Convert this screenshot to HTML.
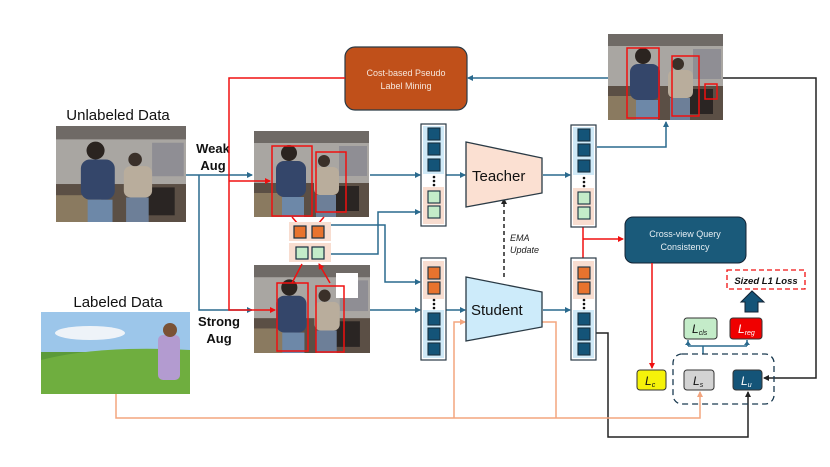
<!DOCTYPE html>
<html><head><meta charset="utf-8"><style>
html,body{margin:0;padding:0;background:#fff;}
svg{display:block;font-family:"Liberation Sans",sans-serif;}
</style></head><body>
<svg width="830" height="467" viewBox="0 0 830 467" xmlns="http://www.w3.org/2000/svg">
<defs>
<symbol id="room" viewBox="0 0 115 86" preserveAspectRatio="none">
<rect width="115" height="86" fill="#8a8580"/>
<rect width="115" height="12" fill="#6f6a66"/>
<rect y="12" width="115" height="40" fill="#a9a6a2"/>
<rect x="85" y="15" width="28" height="30" fill="#8f8e94"/>
<rect y="52" width="115" height="34" fill="#5b4f45"/>
<rect y="62" width="40" height="24" fill="#8a7a60"/>
<rect x="75" y="55" width="30" height="25" fill="#2a2523"/>
<rect x="22" y="30" width="30" height="36" rx="8" fill="#34466a"/>
<circle cx="35" cy="22" r="8" fill="#2b2420"/>
<rect x="28" y="66" width="22" height="20" fill="#6d88a8"/>
<rect x="60" y="36" width="25" height="28" rx="6" fill="#b9ad9c"/>
<circle cx="70" cy="30" r="6" fill="#3a3029"/>
<rect x="62" y="64" width="20" height="22" fill="#6d7f98"/>
</symbol>
<marker id="ab" markerWidth="6" markerHeight="6" refX="5" refY="3" orient="auto" markerUnits="userSpaceOnUse"><path d="M0,0 L6,3 L0,6z" fill="#2a6a8e"/></marker>
<marker id="ar" markerWidth="6" markerHeight="6" refX="5" refY="3" orient="auto" markerUnits="userSpaceOnUse"><path d="M0,0 L6,3 L0,6z" fill="#f01010"/></marker>
<marker id="ak" markerWidth="6" markerHeight="6" refX="5" refY="3" orient="auto" markerUnits="userSpaceOnUse"><path d="M0,0 L6,3 L0,6z" fill="#222"/></marker>
<marker id="ao" markerWidth="6" markerHeight="6" refX="5" refY="3" orient="auto" markerUnits="userSpaceOnUse"><path d="M0,0 L6,3 L0,6z" fill="#f3a57e"/></marker>
</defs>

<!-- texts -->
<text x="118" y="120" font-size="15" text-anchor="middle" fill="#111">Unlabeled Data</text>
<text x="118" y="307" font-size="15" text-anchor="middle" fill="#111">Labeled Data</text>
<text x="213" y="153" font-size="13" font-weight="bold" text-anchor="middle" fill="#111">Weak</text>
<text x="213" y="170" font-size="13" font-weight="bold" text-anchor="middle" fill="#111">Aug</text>
<text x="219" y="326" font-size="13" font-weight="bold" text-anchor="middle" fill="#111">Strong</text>
<text x="219" y="343" font-size="13" font-weight="bold" text-anchor="middle" fill="#111">Aug</text>

<!-- images -->
<use href="#room" x="56" y="126" width="130" height="96"/>
<use href="#room" x="254" y="131" width="115" height="86"/>
<use href="#room" x="254" y="265" width="116" height="88"/>
<use href="#room" x="608" y="34" width="115" height="86"/>
<rect x="336" y="273" width="22" height="25" fill="#fff"/>
<!-- labeled image -->
<rect x="41" y="312" width="149" height="82" fill="#9cc6ea"/>
<ellipse cx="90" cy="333" rx="35" ry="7" fill="#eef3f8"/>
<rect x="41" y="352" width="149" height="42" fill="#5b9a3a"/>
<path d="M41,360 Q100,345 190,350 L190,394 L41,394z" fill="#6fae3f"/>
<rect x="158" y="335" width="22" height="45" rx="5" fill="#b39bd0"/>
<circle cx="170" cy="330" r="7" fill="#7a5236"/>

<!-- red bboxes -->
<g fill="none" stroke="#f01010" stroke-width="1.5">
<rect x="272" y="146" width="40" height="70"/><rect x="316" y="152" width="30" height="60"/>
<rect x="277" y="283" width="31" height="68"/><rect x="316" y="286" width="28" height="66"/>
<rect x="627" y="48" width="32" height="70"/><rect x="672" y="56" width="27" height="60"/><rect x="705" y="84" width="12" height="15"/>
</g>

<!-- cost box -->
<rect x="345" y="47" width="122" height="63" rx="10" fill="#c0501a" stroke="#2a3a45" stroke-width="1.2"/>
<text x="406" y="76" font-size="9" fill="#f6e6dc" text-anchor="middle">Cost-based Pseudo</text>
<text x="406" y="89" font-size="9" fill="#f6e6dc" text-anchor="middle">Label Mining</text>

<!-- cross-view -->
<rect x="625" y="217" width="121" height="46" rx="8" fill="#1a5a7a" stroke="#123" stroke-width="1"/>
<text x="685" y="237" font-size="9" fill="#e6eef3" text-anchor="middle">Cross-view Query</text>
<text x="685" y="250" font-size="9" fill="#e6eef3" text-anchor="middle">Consistency</text>

<!-- lines blue -->
<g fill="none" stroke="#2a6a8e" stroke-width="1.5">
<path d="M186,175 H252" marker-end="url(#ab)"/>
<path d="M199,175 V310 H252" marker-end="url(#ab)"/>
<path d="M370,175 H420" marker-end="url(#ab)"/>
<path d="M370,310 H420" marker-end="url(#ab)"/>
<path d="M446,175 H465" marker-end="url(#ab)"/>
<path d="M446,310 H465" marker-end="url(#ab)"/>
<path d="M543,175 H570" marker-end="url(#ab)"/>
<path d="M543,310 H570" marker-end="url(#ab)"/>
<path d="M330,225 H385 V282 H420" marker-end="url(#ab)"/>
<path d="M330,254 H378 V212 H420" marker-end="url(#ab)"/>
<path d="M597,147 H666 V122" marker-end="url(#ab)"/>
<path d="M608,78 H468" marker-end="url(#ab)"/>
<path d="M703,354 V346 M688,346 H747 M688,346 V340 M747,346 V340"/>
</g>
<path d="M688,341 l-3,4 h6z M747,341 l-3,4 h6z" fill="#2a6a8e"/>

<!-- red lines -->
<g fill="none" stroke="#f01010" stroke-width="1.5">
<path d="M345,78 H229 V310 H275" marker-end="url(#ar)"/>
<path d="M229,181 H270" marker-end="url(#ar)"/>
<path d="M583,226 V258"/>
<path d="M583,239 H623" marker-end="url(#ar)"/>
<path d="M652,263 V368" marker-end="url(#ar)"/>
<path d="M292,217 L298,224 M324,217 L318,224" />
<path d="M292,283 L302,264 M330,283 L319,264" marker-end="url(#ar)"/>
</g>

<!-- black -->
<g fill="none" stroke="#222" stroke-width="1.5">
<path d="M723,78 H816 V378 H764" marker-end="url(#ak)"/>
<path d="M596,333 H608 V437 H748 V392" marker-end="url(#ak)"/>
<path d="M504,277 V199" stroke-dasharray="4,3" marker-end="url(#ak)"/>
</g>
<!-- orange -->
<g fill="none" stroke="#f3a57e" stroke-width="1.5">
<path d="M116,394 V418 H700 V392" marker-end="url(#ao)"/>
<path d="M454,418 V322 H465" marker-end="url(#ao)"/>
<path d="M542,322 H556 V418"/>
</g>

<text x="510" y="241" font-size="9" font-style="italic" fill="#222">EMA</text>
<text x="510" y="253" font-size="9" font-style="italic" fill="#222">Update</text>

<!-- feature small boxes -->
<rect x="289" y="222" width="42" height="19" fill="#f8ddd0"/>
<rect x="289" y="243" width="42" height="19" fill="#f8ddd0"/>
<g stroke="#173040" stroke-width="1.2">
<rect x="294" y="226" width="12" height="12" fill="#e8732e"/><rect x="312" y="226" width="12" height="12" fill="#e8732e"/>
<rect x="296" y="247" width="12" height="12" fill="#c4ecc9"/><rect x="312" y="247" width="12" height="12" fill="#c4ecc9"/>
</g>

<!-- column 1 & 3 -->
<g id="colT">
<rect x="421" y="124" width="25" height="102" fill="#fff" stroke="#2a3a45" stroke-width="1.2"/>
<rect x="423" y="126" width="21" height="48" fill="#cfe9f7"/>
<rect x="423" y="187" width="21" height="37" fill="#f8ddd0"/>
<g stroke="#173040" stroke-width="1.1">
<rect x="428" y="128" width="12" height="12" fill="#145478"/>
<rect x="428" y="143" width="12" height="12" fill="#145478"/>
<rect x="428" y="159" width="12" height="12" fill="#145478"/>
<rect x="428" y="191" width="12" height="12" fill="#c4ecc9"/>
<rect x="428" y="206" width="12" height="12" fill="#c4ecc9"/>
</g>
<circle cx="434" cy="177" r="1.3" fill="#111"/><circle cx="434" cy="181" r="1.3" fill="#111"/><circle cx="434" cy="185" r="1.3" fill="#111"/>
</g>
<use href="#colT" x="150" y="1"/>
<g id="colS">
<rect x="421" y="258" width="25" height="102" fill="#fff" stroke="#2a3a45" stroke-width="1.2"/>
<rect x="423" y="261" width="21" height="38" fill="#f8ddd0"/>
<rect x="423" y="310" width="21" height="48" fill="#cfe9f7"/>
<g stroke="#173040" stroke-width="1.1">
<rect x="428" y="267" width="12" height="12" fill="#e8732e"/>
<rect x="428" y="282" width="12" height="12" fill="#e8732e"/>
<rect x="428" y="313" width="12" height="12" fill="#145478"/>
<rect x="428" y="328" width="12" height="12" fill="#145478"/>
<rect x="428" y="343" width="12" height="12" fill="#145478"/>
</g>
<circle cx="434" cy="300" r="1.3" fill="#111"/><circle cx="434" cy="304" r="1.3" fill="#111"/><circle cx="434" cy="308" r="1.3" fill="#111"/>
</g>
<use href="#colS" x="150" y="0"/>

<!-- teacher/student -->
<path d="M466,142 L542,158 L542,193 L466,207z" fill="#fbe0d2" stroke="#2a3a45" stroke-width="1.3"/>
<text x="472" y="181" font-size="15" fill="#111">Teacher</text>
<path d="M466,277 L542,292 L542,327 L466,341z" fill="#cdebfa" stroke="#2a3a45" stroke-width="1.3"/>
<text x="471" y="315" font-size="15" fill="#111">Student</text>

<!-- losses -->
<rect x="673" y="354" width="101" height="50" rx="9" fill="none" stroke="#1a3a50" stroke-width="1.3" stroke-dasharray="6,4"/>
<rect x="637" y="370" width="29" height="20" rx="3" fill="#f5f20a" stroke="#333" stroke-width="1"/>
<text x="645" y="385" font-size="12" font-style="italic" fill="#111">L<tspan font-size="7" dy="2">c</tspan></text>
<rect x="684" y="370" width="30" height="20" rx="3" fill="#d3d3d3" stroke="#333" stroke-width="1"/>
<text x="693" y="385" font-size="12" font-style="italic" fill="#111">L<tspan font-size="7" dy="2">s</tspan></text>
<rect x="733" y="370" width="29" height="20" rx="3" fill="#145478" stroke="#333" stroke-width="1"/>
<text x="741" y="385" font-size="12" font-style="italic" fill="#fff">L<tspan font-size="7" dy="2">u</tspan></text>
<rect x="684" y="318" width="33" height="21" rx="3" fill="#c4ecc9" stroke="#333" stroke-width="1"/>
<text x="692" y="333" font-size="12" font-style="italic" fill="#111">L<tspan font-size="7" dy="2">cls</tspan></text>
<rect x="730" y="318" width="32" height="21" rx="3" fill="#f00000" stroke="#333" stroke-width="1"/>
<text x="738" y="333" font-size="12" font-style="italic" fill="#fff">L<tspan font-size="7" dy="2">reg</tspan></text>
<rect x="727" y="270" width="78" height="19" fill="#fff" stroke="#f01010" stroke-width="1.3" stroke-dasharray="5,3"/>
<text x="766" y="284" font-size="9.5" font-weight="bold" font-style="italic" text-anchor="middle" fill="#111">Sized L1 Loss</text>
<path d="M745,312 L745,302 L741,302 L752,291 L764,302 L758,302 L758,312z" fill="#145478" stroke="#123" stroke-width="1"/>
</svg>
</body></html>
